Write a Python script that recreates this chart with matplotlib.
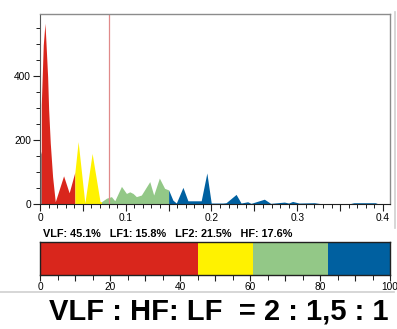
import matplotlib
matplotlib.use("Agg")
import matplotlib.pyplot as plt
from matplotlib.ticker import FixedLocator, MultipleLocator, FuncFormatter
from matplotlib.lines import Line2D

plt.rcParams['font.family'] = ['Liberation Sans', 'DejaVu Sans']

# ---------------- spectrum data (Hz, ms^2/Hz) ----------------
ulf_f = [0.0, 0.0015]
ulf_p = [150, 165]

vlf_f = [0.0015, 0.0038, 0.0058, 0.0070, 0.0089, 0.0101, 0.0120, 0.0147, 0.0178,
         0.0275, 0.0340, 0.0407]
vlf_p = [310, 497, 565, 502, 398, 294, 190, 85, 7, 88, 35, 100]

lf1_f = [0.0407, 0.0445, 0.0523, 0.0608, 0.0700, 0.0717]
lf1_p = [100, 195, 3, 158, 8, 7]

lf2_f = [0.0717, 0.0775, 0.0833, 0.0872, 0.0950, 0.1008, 0.1047, 0.1085, 0.1124,
         0.1182, 0.1280, 0.1326, 0.1392, 0.1453, 0.1500]
lf2_p = [7, 18, 23, 10, 55, 33, 38, 33, 23, 28, 70, 28, 81, 49, 44]

hf_f = [0.1500, 0.1550, 0.1590, 0.1667, 0.1725, 0.1880, 0.1946, 0.1997, 0.2132,
        0.2170, 0.2287, 0.2345, 0.2422, 0.2461, 0.2616, 0.2690, 0.2850, 0.2900,
        0.2946, 0.3020, 0.3200, 0.3300, 0.3600, 0.3660, 0.3910, 0.3950]
hf_p = [44, 12, 3, 52, 10, 10, 97, 3, 3, 4, 30, 3, 7, 2, 15, 2, 6, 3, 8, 3, 4, 0,
        0, 4, 4, 0]

marker_f = 0.08

# ---------------- band shares ----------------
bands = ["VLF", "LF1", "LF2", "HF"]
shares = [45.1, 15.8, 21.5, 17.6]
colors = ["#d9261c", "#fff200", "#93c887", "#0060a0"]

fig = plt.figure(figsize=(3.97, 3.29), dpi=100)
W, H = 397, 329

# ---------------- spectrum axes ----------------
ax = fig.add_axes([40 / W, 125 / H, 350 / W, 190 / H])
ax.fill_between(ulf_f, ulf_p, color="#707070", lw=0)
for f, p, c in zip([vlf_f, lf1_f, lf2_f, hf_f], [vlf_p, lf1_p, lf2_p, hf_p], colors):
    ax.fill_between(f, p, color=c, lw=0)
ax.axvline(marker_f, color="#e08a8a", lw=0.9)

ax.set_xlim(0, 0.4082)
ax.set_ylim(0, 594)
ax.xaxis.set_major_locator(FixedLocator([0, 0.05, 0.1, 0.15, 0.2, 0.25, 0.3, 0.35, 0.4]))
ax.xaxis.set_minor_locator(MultipleLocator(0.01))
ax.xaxis.set_major_formatter(FuncFormatter(
    lambda v, pos: ("0" if abs(v) < 1e-9 else f"{v:.1f}") if abs(v * 10 - round(v * 10)) < 1e-6 else ""))
ax.yaxis.set_major_locator(FixedLocator([0, 200, 400]))
ax.yaxis.set_minor_locator(MultipleLocator(50))
ax.tick_params(which="major", length=5, width=0.8, labelsize=7.3, pad=1.5, color="#202020")
ax.tick_params(which="minor", length=3, width=0.7, color="#202020")
for s in ["top", "right"]:
    ax.spines[s].set_color("#8c8c8c")
    ax.spines[s].set_linewidth(1.0)
ax.spines["left"].set_color("#555555")
ax.spines["bottom"].set_color("#202020")

# summary line
fig.text(43 / W, 1 - 234 / H, "VLF: 45.1%   LF1: 15.8%   LF2: 21.5%   HF: 17.6%",
         fontsize=7.8, fontweight="bold", va="center", ha="left")

# ---------------- band share bar ----------------
bx = fig.add_axes([40 / W, (H - 275) / H, 350 / W, 33 / H])
left = 0
for v, c in zip(shares, colors):
    bx.barh(0, v, left=left, color=c, height=1, lw=0)
    left += v
bx.set_xlim(0, 100)
bx.set_ylim(-0.5, 0.5)
bx.set_yticks([])
bx.xaxis.set_major_locator(MultipleLocator(10))
bx.xaxis.set_minor_locator(MultipleLocator(5))
bx.xaxis.set_major_formatter(FuncFormatter(lambda v, pos: f"{int(v)}" if int(round(v)) % 20 == 0 else ""))
bx.tick_params(which="major", length=4.5, width=0.8, labelsize=7.3, pad=0.5, color="#202020")
bx.tick_params(which="minor", length=3.5, width=0.7, color="#202020")
for s in bx.spines.values():
    s.set_color("#202020")
    s.set_linewidth(1.0)

# light panel borders
fig.add_artist(Line2D([0, 394 / W], [1 - 292 / H, 1 - 292 / H], color="#cfcfcf", lw=1.2))
fig.add_artist(Line2D([395 / W, 395 / W], [1 - 228 / H, 1 - 12 / H], color="#cfcfcf", lw=1.2))

# ratio caption
fig.text(219 / W, 1 - 311 / H, "VLF : HF: LF  = 2 : 1,5 : 1", fontsize=21,
         fontweight="bold", ha="center", va="center")

fig.savefig("out.png", dpi=100)
